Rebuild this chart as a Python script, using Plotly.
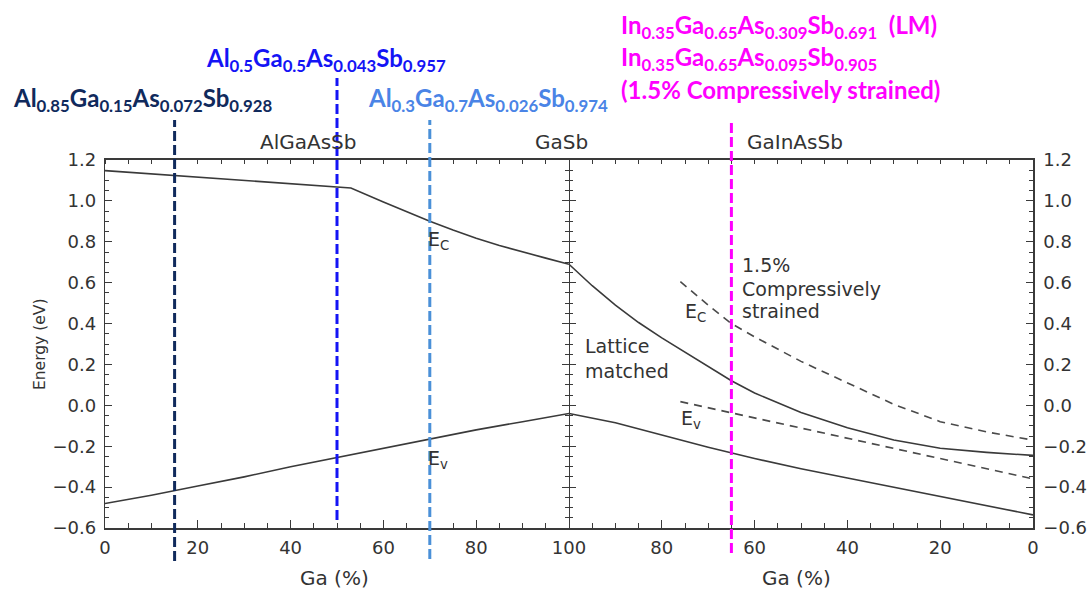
import plotly.graph_objects as go

# ---------------- data ----------------
# Left half: AlGaAsSb (Ga % increasing to GaSb)
ga_left_ec = [0, 10, 20, 30, 40, 53, 60, 65, 70, 75, 80, 85, 90, 95, 100]
ec_left = [1.148, 1.132, 1.116, 1.100, 1.084, 1.063, 0.995, 0.946, 0.900, 0.857, 0.817, 0.782, 0.750, 0.720, 0.690]
ga_left_ev = [0, 10, 20, 30, 40, 50, 60, 70, 80, 90, 100]
ev_left = [-0.48, -0.44, -0.395, -0.35, -0.30, -0.255, -0.21, -0.165, -0.12, -0.08, -0.04]

# Right half: GaInAsSb (Ga % decreasing from GaSb), lattice matched
ga_right_ec = [100, 95, 90, 85, 80, 75, 70, 65, 60, 50, 40, 30, 20, 10, 0]
ec_right = [0.69, 0.585, 0.49, 0.405, 0.33, 0.26, 0.19, 0.12, 0.06, -0.035, -0.11, -0.17, -0.21, -0.23, -0.245]
ga_right_ev = [100, 90, 80, 70, 60, 50, 40, 30, 20, 10, 0]
ev_right = [-0.04, -0.085, -0.145, -0.205, -0.26, -0.31, -0.355, -0.40, -0.445, -0.49, -0.536]

# Right half: 1.5 % compressively strained
ga_strain_ec = [76, 70, 65, 60, 50, 40, 30, 20, 10, 0]
ec_strain = [0.605, 0.49, 0.40, 0.335, 0.215, 0.11, 0.005, -0.08, -0.13, -0.17]
ga_strain_ev = [76, 70, 60, 50, 40, 30, 20, 10, 0]
ev_strain = [0.018, -0.012, -0.06, -0.11, -0.16, -0.21, -0.26, -0.31, -0.36]

# Marked compositions (Ga %)
marker_ga_left = [15, 50, 70]
marker_ga_right = [65]

x_tick_left = [0, 20, 40, 60, 80, 100]
x_tick_right = [0, 20, 40, 60, 80]
y_ticks = [-0.6, -0.4, -0.2, 0.0, 0.2, 0.4, 0.6, 0.8, 1.0, 1.2]

labels_top = [
    "Al<sub>0.85</sub>Ga<sub>0.15</sub>As<sub>0.072</sub>Sb<sub>0.928</sub>",
    "Al<sub>0.5</sub>Ga<sub>0.5</sub>As<sub>0.043</sub>Sb<sub>0.957</sub>",
    "Al<sub>0.3</sub>Ga<sub>0.7</sub>As<sub>0.026</sub>Sb<sub>0.974</sub>",
]
labels_magenta = [
    "In<sub>0.35</sub>Ga<sub>0.65</sub>As<sub>0.309</sub>Sb<sub>0.691</sub> &nbsp;(LM)",
    "In<sub>0.35</sub>Ga<sub>0.65</sub>As<sub>0.095</sub>Sb<sub>0.905</sub>",
    "(1.5% Compressively strained)",
]
strain_note = ["1.5%", "Compressively", "strained"]

# ---------------- geometry / style ----------------
W, H = 1091, 591
L, R, T, B = 105, 1033, 160, 528


def px(xp):
    return (xp - L) / (R - L)


def py(yp):
    return (B - yp) / (B - T)


INK = "#3a3a3a"
LINE_W = 1.6
SANS = "DejaVu Sans, Verdana, sans-serif"
TICKFONT = dict(family=SANS, size=18, color="#333333")
LBLFONT = dict(family=SANS, size=19, color="#333333")
REGFONT = dict(family=SANS, size=20, color="#333333")
GAFONT = dict(family=SANS, size=20, color="#333333")
YTFONT = dict(family=SANS, size=15.5, color="#333333")
FORMULA = "Lato, Carlito, Calibri, sans-serif"
C_NAVY = "#102a5c"
C_BLUE = "#1414f5"
C_LBLUE_T = "#4a84e6"
C_LBLUE_L = "#4a90d8"
C_MAG = "#ff00ff"

fig = go.Figure()

solid = dict(color=INK, width=LINE_W)
dashed = dict(color="#4a4a4a", width=LINE_W, dash="8px,6px")

fig.add_trace(go.Scatter(x=ga_left_ec, y=ec_left, mode="lines", line=solid, xaxis="x", yaxis="y"))
fig.add_trace(go.Scatter(x=ga_left_ev, y=ev_left, mode="lines", line=solid, xaxis="x", yaxis="y"))
fig.add_trace(go.Scatter(x=ga_right_ec, y=ec_right, mode="lines", line=solid, xaxis="x2", yaxis="y2"))
fig.add_trace(go.Scatter(x=ga_right_ev, y=ev_right, mode="lines", line=solid, xaxis="x2", yaxis="y2"))
fig.add_trace(go.Scatter(x=ga_strain_ec, y=ec_strain, mode="lines", line=dashed, xaxis="x2", yaxis="y2"))
fig.add_trace(go.Scatter(x=ga_strain_ev, y=ev_strain, mode="lines", line=dashed, xaxis="x2", yaxis="y2"))
# helper (empty) traces so that the extra label / tick axes are drawn
fig.add_trace(go.Scatter(x=[None], y=[None], xaxis="x2", yaxis="y3", hoverinfo="skip"))
fig.add_trace(go.Scatter(x=[None], y=[None], xaxis="x3", yaxis="y", hoverinfo="skip"))
fig.add_trace(go.Scatter(x=[None], y=[None], xaxis="x4", yaxis="y2", hoverinfo="skip"))
fig.update_traces(showlegend=False)

yr = [-0.6, 1.2]
ycommon = dict(range=yr, showgrid=False, zeroline=False, tickvals=y_ticks, automargin=False,
               tickcolor=INK, tickwidth=1.3, tickfont=TICKFONT, tickformat=".1f")
yminor = dict(dtick=0.05, tick0=0, ticks="inside", ticklen=4, tickcolor=INK, tickwidth=1.1, showgrid=False)

xmin = dict(dtick=5, tick0=0, ticks="inside", ticklen=5, tickcolor=INK, tickwidth=1.1, showgrid=False)
topmin = dict(dtick=5, tick0=0, ticks="inside", ticklen=4, tickcolor=INK, tickwidth=1.1, showgrid=False)

fig.update_layout(
    width=W, height=H,
    margin=dict(l=L, r=W - R, t=T, b=H - B, pad=0, autoexpand=False),
    paper_bgcolor="white", plot_bgcolor="white",
    showlegend=False,
    xaxis=dict(domain=[0, 0.5], range=[0, 100], anchor="y", tickvals=x_tick_left,
               ticks="inside", ticklen=8, tickwidth=1.3, tickcolor=INK, minor=xmin,
               showline=True, mirror=True, linecolor=INK, linewidth=1.5, automargin=False,
               showgrid=False, zeroline=False, tickfont=TICKFONT, ticklabelstandoff=3),
    xaxis2=dict(domain=[0.5, 1], range=[100, 0], anchor="y2", tickvals=x_tick_right,
                ticks="inside", ticklen=8, tickwidth=1.3, tickcolor=INK, minor=xmin,
                showline=True, mirror=True, linecolor=INK, linewidth=1.5, automargin=False,
                showgrid=False, zeroline=False, tickfont=TICKFONT, ticklabelstandoff=3),
    xaxis3=dict(overlaying="x", side="top", anchor="y", range=[0, 100], tickvals=[],
                ticks="", showticklabels=False, showline=False, showgrid=False, zeroline=False,
                automargin=False, minor=topmin),
    xaxis4=dict(overlaying="x2", side="top", anchor="y2", range=[100, 0], tickvals=[],
                ticks="", showticklabels=False, showline=False, showgrid=False, zeroline=False,
                automargin=False, minor=topmin),
    # left axis (labels) – its mirrored line + ticks form the GaSb divider
    yaxis=dict(domain=[0, 1], anchor="x", side="left", ticks="inside", ticklen=7,
               showline=True, mirror="ticks", linecolor=INK, linewidth=1.4,
               minor=yminor, ticklabelstandoff=4, **ycommon),
    # right half: ticks on divider (pointing right) and on right frame
    yaxis2=dict(domain=[0, 1], anchor="x2", side="left", ticks="inside", ticklen=7,
                showline=False, mirror="ticks", minor=yminor, showticklabels=False, **ycommon),
    # right-hand labels + frame line
    yaxis3=dict(overlaying="y2", anchor="x2", side="right", ticks="", showline=True,
                linecolor=INK, linewidth=1.5, showticklabels=True, ticklabelstandoff=5, **ycommon),
)

# vertical dashed composition markers (extend beyond plot area)
marker_styles = [
    (C_NAVY, 120, 561),
    (C_BLUE, 78, 520),
    (C_LBLUE_L, 120, 559),
]
for ga, (col, ytop, ybot) in zip(marker_ga_left, marker_styles):
    fig.add_shape(type="line", xref="x", yref="paper", x0=ga, x1=ga, y0=py(ybot), y1=py(ytop),
                  line=dict(color=col, width=3, dash="10px,4px"), layer="above")
for ga in marker_ga_right:
    fig.add_shape(type="line", xref="x2", yref="paper", x0=ga, x1=ga, y0=py(553), y1=py(122),
                  line=dict(color=C_MAG, width=3, dash="10px,4px"), layer="above")


def ann(text, x, y, font, xanchor="left", yanchor="middle", align="left", angle=0):
    fig.add_annotation(text=text, xref="paper", yref="paper", x=px(x), y=py(y),
                       xanchor=xanchor, yanchor=yanchor, showarrow=False, font=font,
                       align=align, textangle=angle)


# composition labels
fsz = 24
ann(labels_top[0], 11, 99, dict(family=FORMULA, size=fsz, color=C_NAVY, weight="bold"))
ann(labels_top[1], 204, 59, dict(family=FORMULA, size=fsz, color=C_BLUE, weight="bold"))
ann(labels_top[2], 366, 100, dict(family=FORMULA, size=fsz, color=C_LBLUE_T, weight="bold"))
ann(labels_magenta[0], 619, 27, dict(family=FORMULA, size=fsz, color=C_MAG, weight="bold"))
ann(labels_magenta[1], 619, 58, dict(family=FORMULA, size=fsz, color=C_MAG, weight="bold"))
ann(labels_magenta[2], 619, 89, dict(family=FORMULA, size=fsz, color=C_MAG, weight="bold"))

# region labels
ann("AlGaAsSb", 308, 142, REGFONT, xanchor="center")
ann("GaSb", 561, 142, REGFONT, xanchor="center")
ann("GaInAsSb", 795, 142, REGFONT, xanchor="center")

# axis titles
ann("Energy (eV)", 40, 345, YTFONT, xanchor="center", angle=-90)
ann("Ga (%)", 334, 578, GAFONT, xanchor="center")
ann("Ga (%)", 796, 578, GAFONT, xanchor="center")

# in-plot labels
ann("E<sub>C</sub>", 426, 240, LBLFONT)
ann("E<sub>v</sub>", 426, 459, LBLFONT)
ann("E<sub>C</sub>", 683, 312, LBLFONT)
ann("E<sub>v</sub>", 679, 419, LBLFONT)
ann("Lattice<br>matched", 583, 358, LBLFONT)
for line, yy in zip(strain_note, [265, 289, 311]):
    ann(line, 740, yy, LBLFONT)

fig.write_html("out.html", config={"displayModeBar": False},
               post_script="document.body.style.margin='0px';")
